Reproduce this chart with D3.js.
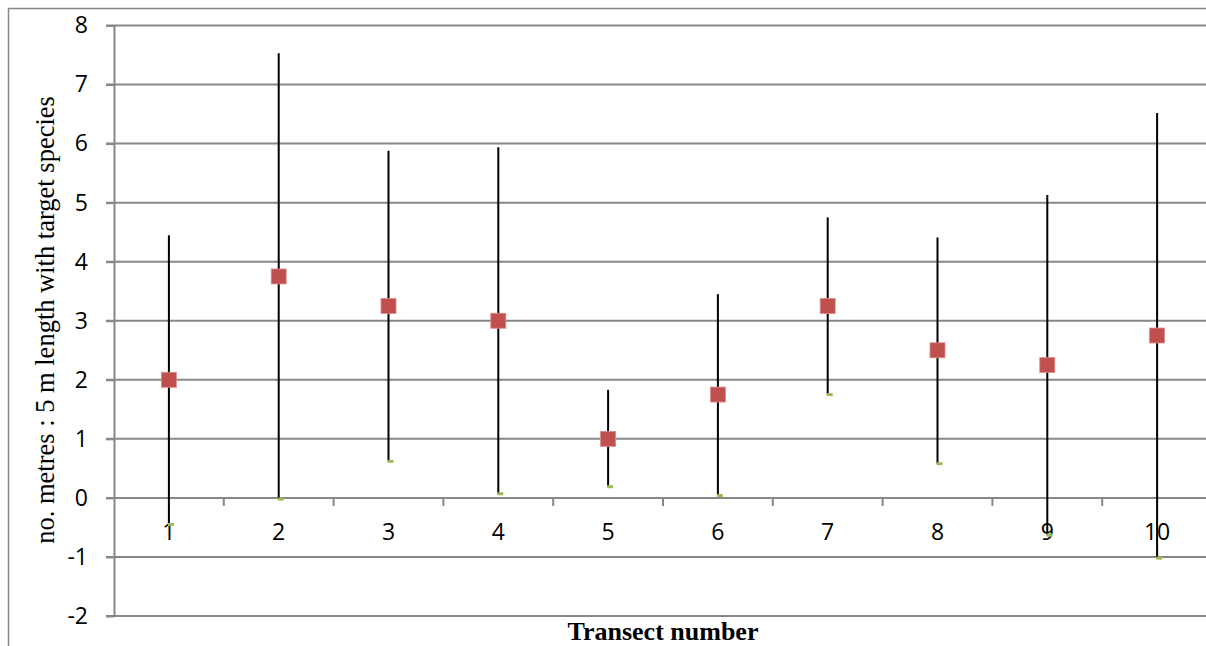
<!DOCTYPE html>
<html>
<head>
<meta charset="utf-8">
<script src="https://cdn.jsdelivr.net/npm/d3@7"></script>
<style>
  body { margin: 0; background: #fff; }
  svg { display: block; }
</style>
</head>
<body>
<div id="chart"></div>
<script>
// transect data
const transects = ["1", "2", "3", "4", "5", "6", "7", "8", "9", "10"];
const means = [2, 3.75, 3.25, 3, 1, 1.75, 3.25, 2.5, 2.25, 2.75];
const upper = [4.45, 7.53, 5.88, 5.94, 1.83, 3.45, 4.75, 4.41, 5.13, 6.52];
const lower = [-0.45, -0.02, 0.62, 0.07, 0.19, 0.04, 1.75, 0.58, -0.63, -1.02];
const yTicks = [-2, -1, 0, 1, 2, 3, 4, 5, 6, 7, 8];

const width = 1206;
const height = 646;
const plot = { left: 114, right: 1212, top: 25.5, bottom: 616 };
const gridColor = "#878787";
const meanColor = "#c0504d";
const lowColor = "#9bbb59";
const tickFont = "'Open Sans', 'Liberation Sans', sans-serif";
const titleFont = "'Liberation Serif', 'DejaVu Serif', serif";

const svg = d3.select("#chart").append("svg")
  .attr("width", width)
  .attr("height", height);

const x = d3.scaleBand()
  .domain(transects)
  .range([plot.left, plot.right])
  .padding(0);

const y = d3.scaleLinear()
  .domain([-2, 8])
  .range([plot.bottom, plot.top]);

const cx = d => x(d) + x.bandwidth() / 2;

// outer chart border (left + top only visible)
svg.append("path")
  .attr("d", `M8.5,${height} V8.5 H${width}`)
  .attr("fill", "none")
  .attr("stroke", gridColor)
  .attr("stroke-width", 1.5);

// horizontal gridlines
svg.append("g")
  .selectAll("line")
  .data(yTicks)
  .join("line")
  .attr("x1", plot.left - 8)
  .attr("x2", plot.right)
  .attr("y1", d => y(d))
  .attr("y2", d => y(d))
  .attr("stroke", gridColor)
  .attr("stroke-width", 2);

// y axis
const yAxis = svg.append("g")
  .attr("transform", `translate(${plot.left},0)`)
  .call(d3.axisLeft(y)
    .tickValues(yTicks)
    .tickFormat(d => String(d))
    .tickSize(8)
    .tickSizeOuter(0)
    .tickPadding(18));

yAxis.select(".domain").attr("stroke", gridColor).attr("stroke-width", 2);
yAxis.selectAll(".tick line").attr("stroke", gridColor).attr("stroke-width", 2);
yAxis.selectAll("text")
  .attr("fill", "#000")
  .style("font-family", tickFont)
  .style("font-size", "23px");

// x axis sits on the zero line
const xAxis = svg.append("g")
  .attr("transform", `translate(0,${y(0)})`)
  .call(d3.axisBottom(x).tickSize(0).tickPadding(26));

xAxis.select(".domain").remove();
xAxis.selectAll("text")
  .attr("fill", "#000")
  .style("font-family", tickFont)
  .style("font-size", "23px");

// category boundary ticks
const boundaries = transects.map(d => x(d)).concat([plot.right]).slice(1);
xAxis.append("g")
  .selectAll("line")
  .data(boundaries)
  .join("line")
  .attr("x1", d => d)
  .attr("x2", d => d)
  .attr("y1", 0)
  .attr("y2", 8)
  .attr("stroke", gridColor)
  .attr("stroke-width", 2);

const rows = transects.map((t, i) => ({ t, mean: means[i], hi: upper[i], lo: lower[i] }));

// error bars
svg.append("g")
  .selectAll("line")
  .data(rows)
  .join("line")
  .attr("x1", d => cx(d.t))
  .attr("x2", d => cx(d.t))
  .attr("y1", d => y(d.hi))
  .attr("y2", d => y(d.lo))
  .attr("stroke", "#000")
  .attr("stroke-width", 2);

// low-end markers (tiny green dashes)
svg.append("g")
  .selectAll("rect")
  .data(rows)
  .join("rect")
  .attr("x", d => cx(d.t) - 1)
  .attr("y", d => y(d.lo) - 1.5)
  .attr("width", 6)
  .attr("height", 3)
  .attr("fill", lowColor);

// mean markers
svg.append("g")
  .selectAll("rect")
  .data(rows)
  .join("rect")
  .attr("x", d => cx(d.t) - 7.5)
  .attr("y", d => y(d.mean) - 7.5)
  .attr("width", 15)
  .attr("height", 15)
  .attr("fill", meanColor)
  .attr("stroke", "#dc8d8b")
  .attr("stroke-width", 0.8);

// axis titles
svg.append("text")
  .attr("transform", `translate(54,${(93 + 547) / 2}) rotate(-90)`)
  .attr("text-anchor", "middle")
  .style("font-family", titleFont)
  .style("font-size", "26.5px")
  .text("no. metres : 5 m length with target species");

svg.append("text")
  .attr("x", 663)
  .attr("y", 640)
  .attr("text-anchor", "middle")
  .style("font-family", titleFont)
  .style("font-size", "26px")
  .style("font-weight", "bold")
  .text("Transect number");
</script>
</body>
</html>
